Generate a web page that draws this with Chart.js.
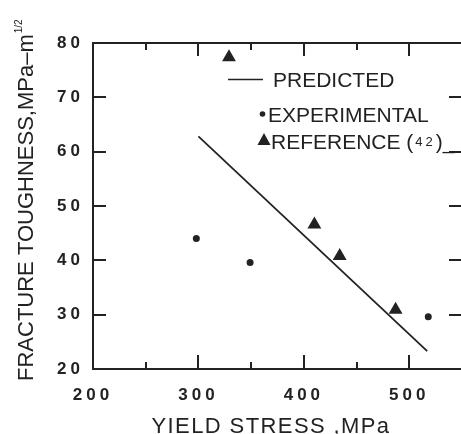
<!DOCTYPE html>
<html>
<head>
<meta charset="utf-8">
<script src="https://cdn.jsdelivr.net/npm/chart.js@4/dist/chart.umd.min.js"></script>
<style>
  html, body { margin: 0; padding: 0; background: #fff; overflow: hidden; }
  #wrap { width: 470px; height: 434px; }
</style>
</head>
<body>
<div id="wrap"><canvas id="toughness"></canvas></div>
<script>
"use strict"

// values
const predictedX = [300, 517];
const predictedY = [62.8, 23.3];
const experimentalX = [298, 349, 518];
const experimentalY = [44.0, 39.6, 29.6];
const referenceX = [329, 410, 434, 487];
const referenceY = [77.4, 46.6, 40.8, 30.9];

const xMin = 200, xMax = 550, xStep = 100, xMinorStep = 50;
const yMin = 20, yMax = 80, yStep = 10;

const xTitle = 'YIELD STRESS ,MPa';
const yTitle = 'FRACTURE TOUGHNESS,MPa\u2013m';
const yTitleSup = '1/2';
const legendLabels = ['PREDICTED', 'EXPERIMENTAL', 'REFERENCE ('];

const ink = '#222';
const FONT = '"Liberation Sans", Arial, sans-serif';

const toPoints = (xs, ys) => xs.map((x, i) => ({ x: x, y: ys[i] }));

// tick marks only, pointing into the plot
const tickAxis = (position, min, max, step, len, weight) => ({
  type: 'linear', position: position, min: min, max: max, weight: weight,
  ticks: { display: false, stepSize: step, includeBounds: false },
  grid: { drawOnChartArea: false, tickLength: -len, color: ink, lineWidth: 2 },
  border: { display: true, color: ink, width: 2 },
  afterFit: s => { if (s.isHorizontal()) s.height = 0; else s.width = 0; }
});

const figurePlugin = {
  id: 'figure',
  beforeDraw(chart) { chart.ctx.letterSpacing = '4px'; },
  beforeDatasetsDraw(chart) { chart.ctx.letterSpacing = '0px'; },
  afterDraw(chart) {
    const ctx = chart.ctx;
    ctx.save();
    ctx.letterSpacing = '0px';
    ctx.fillStyle = ink;
    ctx.strokeStyle = ink;
    ctx.textBaseline = 'alphabetic';
    ctx.textAlign = 'left';

    // legend inside the plot
    ctx.font = '21px ' + FONT;
    ctx.lineWidth = 1.6;
    ctx.beginPath();
    ctx.moveTo(228, 79.5);
    ctx.lineTo(263, 79.5);
    ctx.stroke();
    ctx.fillText(legendLabels[0], 273, 87);

    ctx.beginPath();
    ctx.arc(262.5, 114, 2.8, 0, Math.PI * 2);
    ctx.fill();
    ctx.fillText(legendLabels[1], 268, 122);

    ctx.beginPath();
    ctx.moveTo(264, 133);
    ctx.lineTo(270.5, 145);
    ctx.lineTo(257.5, 145);
    ctx.closePath();
    ctx.fill();
    ctx.fillText(legendLabels[2], 271, 148.5);
    let x = 271 + ctx.measureText(legendLabels[2]).width + 2;
    ctx.font = '13px ' + FONT;
    ctx.letterSpacing = '3px';
    ctx.fillText('42', x, 146);
    x += ctx.measureText('42').width;
    ctx.letterSpacing = '0px';
    ctx.font = '21px ' + FONT;
    ctx.fillText(')_', x, 148.5);

    // x axis title
    ctx.font = '22px ' + FONT;
    ctx.letterSpacing = '1.4px';
    ctx.textAlign = 'center';
    ctx.fillText(xTitle, 271, 433);

    // y axis title, rotated
    ctx.letterSpacing = '0px';
    ctx.textAlign = 'left';
    ctx.translate(33, 381);
    ctx.rotate(-Math.PI / 2);
    ctx.font = '22px ' + FONT;
    ctx.fillText(yTitle, 0, 0);
    const w = ctx.measureText(yTitle).width;
    ctx.font = '10px ' + FONT;
    ctx.fillText(yTitleSup, w + 1, -11);
    ctx.restore();
  }
};

new Chart(document.getElementById('toughness'), {
  type: 'scatter',
  data: {
    datasets: [
      {
        label: 'PREDICTED',
        data: toPoints(predictedX, predictedY),
        showLine: true,
        borderColor: ink,
        borderWidth: 1.8,
        pointRadius: 0
      },
      {
        label: 'EXPERIMENTAL',
        data: toPoints(experimentalX, experimentalY),
        pointStyle: 'circle',
        pointRadius: 3.5,
        backgroundColor: ink,
        borderWidth: 0
      },
      {
        label: 'REFERENCE (42)',
        data: toPoints(referenceX, referenceY),
        pointStyle: 'triangle',
        pointRadius: 8,
        backgroundColor: ink,
        borderWidth: 0
      }
    ]
  },
  options: {
    responsive: true,
    maintainAspectRatio: false,
    animation: false,
    layout: { padding: { top: 43, right: 4, left: 0, bottom: 0 } },
    plugins: { legend: { display: false }, tooltip: { enabled: false } },
    scales: {
      x: {
        type: 'linear', position: 'bottom', min: xMin, max: xMax,
        ticks: {
          stepSize: xStep, includeBounds: false, autoSkip: false, maxRotation: 0,
          padding: 30, color: ink, font: { family: FONT, size: 17, weight: 'bold' }
        },
        grid: { drawOnChartArea: false, tickLength: -14, color: ink, lineWidth: 2 },
        border: { color: ink, width: 2 },
        afterFit: s => { s.height = 65; }
      },
      xMinorBottom: tickAxis('bottom', xMin, xMax, xMinorStep, 7, -1),
      xTop: tickAxis('top', xMin, xMax, xStep, 13, 0),
      xMinorTop: tickAxis('top', xMin, xMax, xMinorStep, 7, -1),
      y: {
        type: 'linear', position: 'left', min: yMin, max: yMax,
        ticks: {
          stepSize: yStep, autoSkip: false, padding: 22, color: ink,
          font: { family: FONT, size: 17, weight: 'bold' }
        },
        grid: { drawOnChartArea: false, tickLength: -13, color: ink, lineWidth: 2 },
        border: { color: ink, width: 2 },
        afterFit: s => { s.width = 93; }
      },
      yRight: tickAxis('right', yMin, yMax, yStep, 13, 0)
    }
  },
  plugins: [figurePlugin]
});
</script>
</body>
</html>
